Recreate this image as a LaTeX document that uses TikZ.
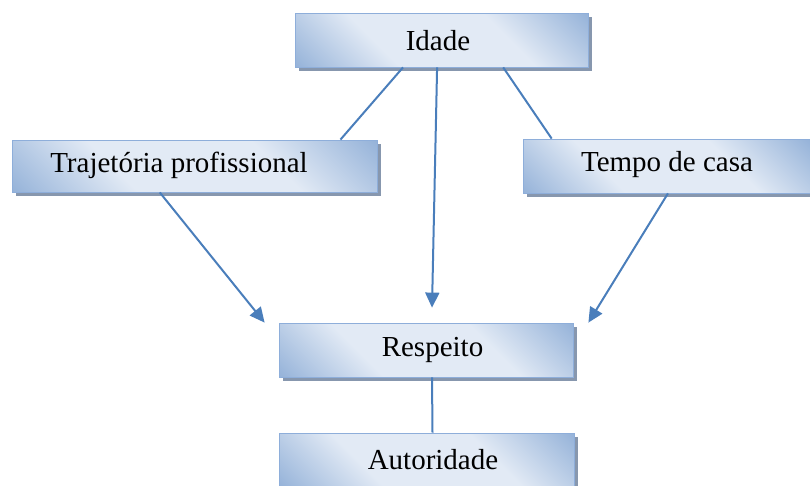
\documentclass[tikz,border=0pt]{standalone}
\usepackage{fontspec}
\setmainfont{Liberation Serif}
\usetikzlibrary{arrows.meta,shadows,calc}
\definecolor{boxdark}{HTML}{93B1D8}
\definecolor{boxlight}{HTML}{E2EAF5}
\definecolor{boxedge}{HTML}{8EAEDA}
\definecolor{shadowc}{HTML}{8797AE}
\definecolor{linec}{HTML}{4A7EBB}
\pgfdeclareverticalshading{boxshade}{100bp}{color(0bp)=(boxdark); color(14bp)=(boxdark); color(36bp)=(boxlight); color(64bp)=(boxlight); color(86bp)=(boxdark); color(100bp)=(boxdark)}
\tikzset{
  box/.style={rectangle, draw=boxedge, line width=0.8pt, shading=boxshade,
    shading angle=-45, inner sep=0pt,
    drop shadow={shadow xshift=4pt, shadow yshift=-4pt, fill=shadowc, opacity=1}},
  lbl/.style={font=\fontsize{29}{34}\selectfont, text=black, inner sep=0pt},
  conn/.style={draw=linec, line width=2pt},
  arr/.style={conn, -{Triangle[length=15pt,width=14pt]}}
}
\begin{document}
\begin{tikzpicture}[x=1pt,y=-1pt]
\useasboundingbox (0,0) rectangle (810,485);
\node[box, minimum width=293pt, minimum height=54pt] (idade) at (441.5,40) {};
\node[lbl] (tidade) at (438,41) {Idade};
\node[box, minimum width=365pt, minimum height=52pt] (traj) at (194.5,166) {};
\node[lbl] (ttraj) at (179,165) {Trajetória profissional};
\node[box, minimum width=287pt, minimum height=54pt] (tempo) at (666.5,166) {};
\node[lbl] (ttempo) at (667,165) {Tempo de casa};
\node[box, minimum width=294pt, minimum height=54pt] (resp) at (426,350) {};
\node[lbl] (tresp) at (432.5,350) {Respeito};
\node[box, minimum width=295pt, minimum height=54pt] (aut) at (426.5,460) {};
\node[lbl] (taut) at (433,460) {Autoridade};
\draw[conn] ($(idade.south west)!0.369!(idade.south east)$) -- ($(traj.north west)!0.899!(traj.north east)$);
\draw[conn] ($(idade.south west)!0.71!(idade.south east)$) -- ($(tempo.north west)!0.101!(tempo.north east)$);
\draw[arr] ($(idade.south west)!0.485!(idade.south east)$) -- ([xshift=6pt,yshift=15pt]resp.north);
\draw[arr] ($(traj.south west)!0.405!(traj.south east)$) -- ([xshift=-14pt]resp.north west);
\draw[arr] ($(tempo.south west)!0.505!(tempo.south east)$) -- ([xshift=15pt]resp.north east);
\draw[conn] ([xshift=6pt]resp.south) -- ([xshift=6pt]aut.north);
\end{tikzpicture}
\end{document}
